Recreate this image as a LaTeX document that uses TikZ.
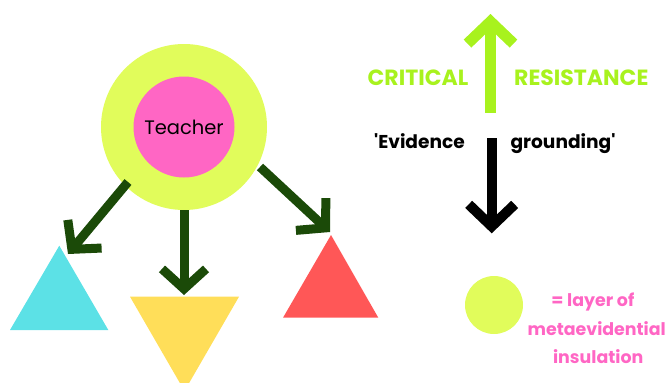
\documentclass[tikz,border=0pt]{standalone}
\usepackage{fontspec}
\setmainfont{Poppins}
\usetikzlibrary{arrows.meta}
\definecolor{layer}{HTML}{E1FC5B}
\definecolor{teacherpink}{HTML}{FF66C4}
\definecolor{cyanT}{HTML}{5CE1E6}
\definecolor{yellowT}{HTML}{FFDE59}
\definecolor{redT}{HTML}{FF5757}
\definecolor{darkgreen}{HTML}{1B4A08}
\definecolor{lime}{HTML}{A8F21E}
\begin{document}
\begin{tikzpicture}[x=1pt,y=-1pt,
  darr/.style={line width=9pt, draw=darkgreen, -{Straight Barb[length=20pt,width=44pt]}},
  garr/.style={line width=11pt, draw=lime, -{Straight Barb[length=22pt,width=46pt]}},
  barr/.style={line width=10pt, draw=black, -{Straight Barb[length=22pt,width=46pt]}},
  gtext/.style={text=lime, font=\bfseries\fontsize{22}{22}\selectfont, inner sep=0, anchor=base},
  btext/.style={text=black, font=\bfseries\fontsize{18.6}{18.6}\selectfont, inner sep=0, anchor=base},
  ptext/.style={text=teacherpink, font=\bfseries\fontsize{17.4}{17.4}\selectfont, inner sep=0, anchor=base},
  disc/.style={circle, inner sep=0, fill=#1}]
\useasboundingbox (0,0) rectangle (670,383);

% teacher surrounded by its insulating layer
\node[disc=layer, minimum size=166pt] (layer) at (184,127) {};
\node[disc=teacherpink, minimum size=101pt, font=\fontsize{19.5}{19.5}\selectfont] (teacher) at (184,127) {Teacher};

% students
\fill[cyanT] (10,330) -- (59.3,245.7) -- (108.3,330) -- cycle;
\fill[yellowT] (130,296.7) -- (239,296.7) -- (184.5,391) -- cycle;
\fill[redT] (283,317.7) -- (331,235) -- (378.3,317.7) -- cycle;

% arrows from the teacher to the students
\coordinate (lS) at (128,182);
\coordinate (lT) at (68,254);
\coordinate (mT) at (184,295);
\coordinate (rS) at (260,167);
\coordinate (rT) at (330,232);
\draw[darr] (lS) -- (lT);
\draw[darr] (layer.south) -- (mT);
\draw[darr] (rS) -- (rT);

% critical resistance vs evidence grounding
\coordinate (gS) at (490.5,112.7);
\coordinate (gT) at (490.5,14);
\draw[garr] (gS) -- (gT);
\node[gtext] (crit) at (418,85) {CRITICAL};
\node[gtext] (resist) at (581.3,85) {RESISTANCE};

\coordinate (bS) at (491.7,138.3);
\coordinate (bT) at (491.7,233.3);
\draw[barr] (bS) -- (bT);
\node[btext] (evid) at (419.5,148.5) {\textquotesingle Evidence};
\node[btext] (ground) at (563,148.5) {grounding\textquotesingle};

% legend
\node[disc=layer, minimum size=58pt] (key) at (494,305) {};
\node[ptext] (leg1) at (592.8,306.7) {= layer of};
\node[ptext] (leg2) at (596.7,335) {metaevidential};
\node[ptext] (leg3) at (598.2,363.3) {insulation};
\end{tikzpicture}
\end{document}
